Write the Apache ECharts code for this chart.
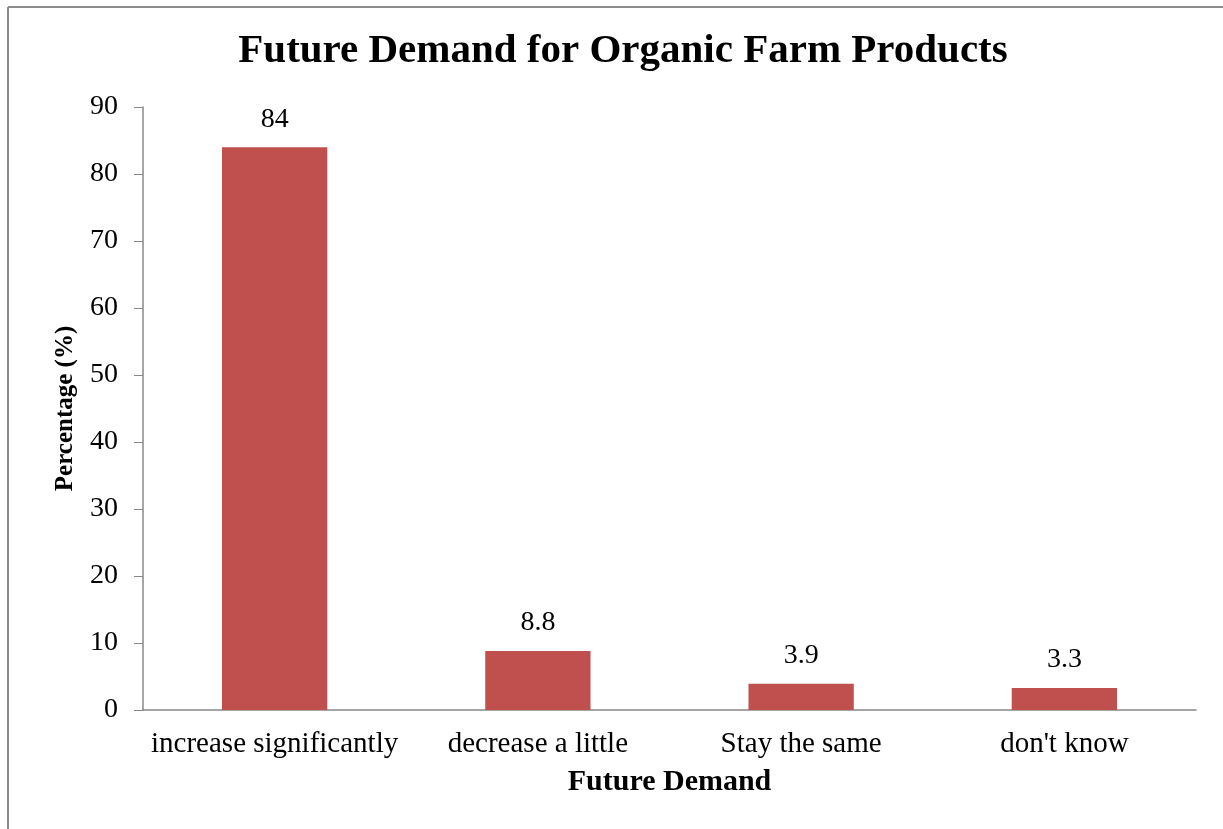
<!DOCTYPE html>
<html>
<head>
<meta charset="utf-8">
<script src="https://cdn.jsdelivr.net/npm/echarts@6/dist/echarts.min.js"></script>
<style>html,body{margin:0;padding:0;background:#fff}#c{width:1223px;height:829px}</style>
</head>
<body>
<div id="c"></div>
<script>
var titleText = "Future Demand for Organic Farm Products";
var categories = ["increase significantly", "decrease a little", "Stay the same", "don't know"];
var values = [84, 8.8, 3.9, 3.3];
var yTicks = [0, 10, 20, 30, 40, 50, 60, 70, 80, 90];
var xName = "Future Demand";
var yName = "Percentage (%)";

var FONT = "'Liberation Serif', 'Times New Roman', serif";
var chart = echarts.init(document.getElementById('c'));
chart.setOption({
  animation: false,
  backgroundColor: '#fff',
  title: {
    text: titleText, left: 618, textAlign: 'center', top: 26,
    textStyle: {fontFamily: FONT, fontWeight: 'bold', fontSize: 41, color: '#000'}
  },
  graphic: [
    {type: 'line', shape: {x1: 8, y1: 7, x2: 1223, y2: 7}, style: {stroke: '#8c8c8c', lineWidth: 2}},
    {type: 'line', shape: {x1: 8, y1: 7, x2: 8, y2: 829}, style: {stroke: '#8c8c8c', lineWidth: 2}}
  ],
  grid: {left: 143, right: 27, top: 107, bottom: 119, containLabel: false},
  xAxis: {
    type: 'category', data: categories,
    name: xName, nameLocation: 'middle', nameGap: 57,
    nameTextStyle: {fontFamily: FONT, fontWeight: 'bold', fontSize: 30, color: '#000'},
    axisLine: {lineStyle: {color: '#888', width: 1.5}},
    axisTick: {show: false},
    axisLabel: {fontFamily: FONT, fontSize: 29, color: '#000', margin: 20, interval: 0, hideOverlap: false}
  },
  yAxis: {
    type: 'value', min: 0, max: 90, interval: 10,
    name: yName, nameLocation: 'middle', nameGap: 65, nameRotate: 90,
    nameTextStyle: {fontFamily: FONT, fontWeight: 'bold', fontSize: 25, color: '#000'},
    axisLine: {show: true, lineStyle: {color: '#888', width: 1.5}},
    axisTick: {show: true, length: 9, lineStyle: {color: '#888'}},
    splitLine: {show: false},
    axisLabel: {fontFamily: FONT, fontSize: 28, color: '#000', margin: 25,
      formatter: function (v) { return yTicks.indexOf(v) >= 0 ? String(v) : ''; }}
  },
  series: [{
    type: 'bar', data: values, barWidth: '40%',
    itemStyle: {color: '#C0504D'},
    label: {show: true, position: 'top', distance: 14, fontFamily: FONT, fontSize: 28, color: '#000'}
  }]
});
</script>
</body>
</html>
